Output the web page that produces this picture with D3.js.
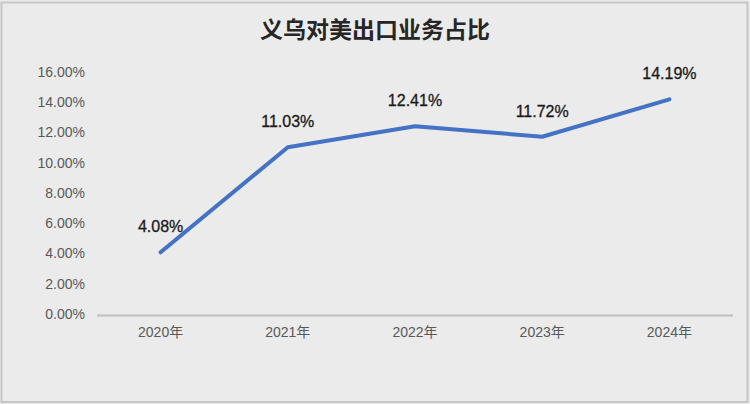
<!DOCTYPE html>
<html lang="zh">
<head>
<meta charset="UTF-8" />
<title>义乌对美出口业务占比</title>
<style>
  html, body { margin: 0; padding: 0; background: #ebebeb; }
  svg { display: block; }
</style>
</head>
<body>
<div id="chart"></div>
<script src="https://d3js.org/d3.v7.min.js"></script>
<script>
const years = ["2020年", "2021年", "2022年", "2023年", "2024年"];
const shares = [4.08, 11.03, 12.41, 11.72, 14.19];
const yTicks = [0, 2, 4, 6, 8, 10, 12, 14, 16];
const title = "义乌对美出口业务占比";

const width = 750, height = 404;
const margin = { top: 72, right: 17, bottom: 90, left: 97 };

const svg = d3.select("#chart").append("svg")
  .attr("width", width)
  .attr("height", height);

svg.append("rect")
  .attr("x", 1.5).attr("y", 2.5)
  .attr("width", width - 4).attr("height", height - 4.5)
  .attr("fill", "#ebebeb")
  .attr("stroke", "#c6c6c6")
  .attr("stroke-width", 2);

const x = d3.scaleBand()
  .domain(years)
  .range([margin.left, width - margin.right]);

const y = d3.scaleLinear()
  .domain([0, 16])
  .range([height - margin.bottom, margin.top]);

svg.append("text")
  .attr("x", width / 2)
  .attr("y", 38)
  .attr("text-anchor", "middle")
  .attr("font-family", "'Noto Sans CJK SC', sans-serif")
  .attr("font-weight", 700)
  .attr("font-size", 23)
  .attr("fill", "#262626")
  .text(title);

// y axis labels (no gridlines in the original)
const yAxis = d3.axisLeft(y)
  .tickValues(yTicks)
  .tickFormat(d => d.toFixed(2) + "%")
  .tickSize(0)
  .tickPadding(0);

svg.append("g")
  .attr("transform", `translate(85,0)`)
  .call(yAxis)
  .call(g => g.select(".domain").remove())
  .selectAll("text")
  .attr("font-family", "'Liberation Sans', Arial, sans-serif")
  .attr("font-size", 14)
  .attr("fill", "#595959");

// baseline + x labels
const xAxis = d3.axisBottom(x).tickSize(0).tickPadding(12);
svg.append("g")
  .attr("transform", `translate(0,${y(0) + 1.5})`)
  .call(xAxis)
  .call(g => g.select(".domain").attr("stroke", "#bfbfbf").attr("stroke-width", 2)
    .attr("d", `M${margin.left},0H${width - margin.right}`))
  .selectAll("text")
  .attr("font-family", "'Liberation Sans', 'Noto Sans CJK SC', sans-serif")
  .attr("font-size", 14)
  .attr("fill", "#595959");

const line = d3.line()
  .x((d, i) => x(years[i]) + x.bandwidth() / 2)
  .y(d => y(d));

svg.append("path")
  .datum(shares)
  .attr("fill", "none")
  .attr("stroke", "#4472c4")
  .attr("stroke-width", 4)
  .attr("stroke-linecap", "round")
  .attr("stroke-linejoin", "round")
  .attr("d", line);

svg.append("g")
  .selectAll("text")
  .data(shares)
  .join("text")
  .attr("x", (d, i) => x(years[i]) + x.bandwidth() / 2)
  .attr("y", d => y(d) - 20)
  .attr("text-anchor", "middle")
  .attr("font-family", "'Liberation Sans', Arial, sans-serif")
  .attr("font-size", 16)
  .attr("fill", "#1a1a1a")
  .attr("stroke", "#1a1a1a")
  .attr("stroke-width", 0.3)
  .text(d => d.toFixed(2) + "%");
</script>
</body>
</html>
